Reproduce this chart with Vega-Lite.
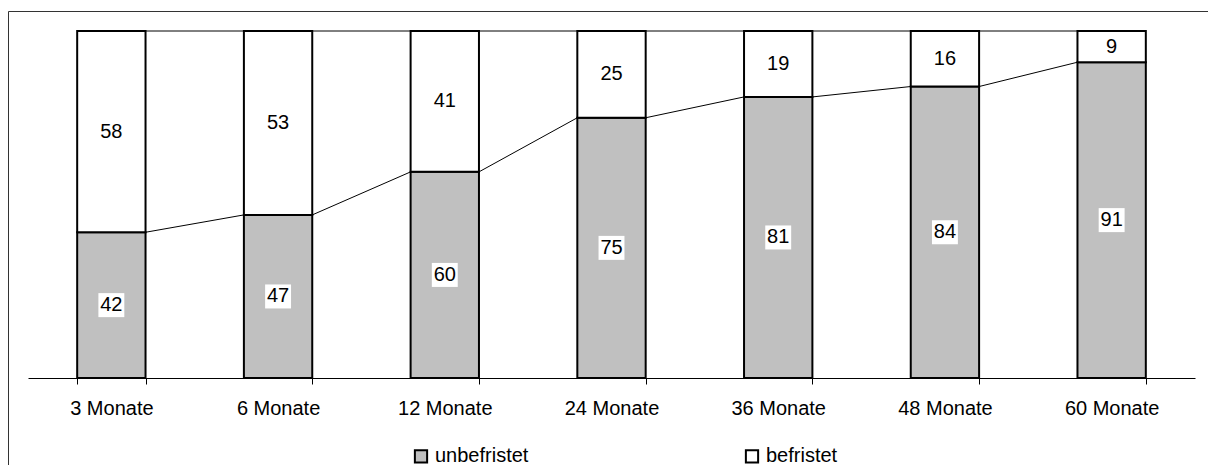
{
  "$schema": "https://vega.github.io/schema/vega-lite/v6.json",
  "width": 1210,
  "height": 470,
  "autosize": {"type": "none"},
  "padding": {"left": 8, "top": 11, "right": 0, "bottom": 0},
  "background": "white",
  "config": {"view": {"stroke": "#333333", "strokeWidth": 1}, "font": "Liberation Sans"},
  "datasets": {
    "bars": [
      {"cat": "3 Monate", "type": "unbefristet", "value": 42},
      {"cat": "3 Monate", "type": "befristet", "value": 58},
      {"cat": "6 Monate", "type": "unbefristet", "value": 47},
      {"cat": "6 Monate", "type": "befristet", "value": 53},
      {"cat": "12 Monate", "type": "unbefristet", "value": 60},
      {"cat": "12 Monate", "type": "befristet", "value": 41},
      {"cat": "24 Monate", "type": "unbefristet", "value": 75},
      {"cat": "24 Monate", "type": "befristet", "value": 25},
      {"cat": "36 Monate", "type": "unbefristet", "value": 81},
      {"cat": "36 Monate", "type": "befristet", "value": 19},
      {"cat": "48 Monate", "type": "unbefristet", "value": 84},
      {"cat": "48 Monate", "type": "befristet", "value": 16},
      {"cat": "60 Monate", "type": "unbefristet", "value": 91},
      {"cat": "60 Monate", "type": "befristet", "value": 9}
    ],
    "links": [
      {"from": "3 Monate", "to": "6 Monate", "a": 42, "b": 47},
      {"from": "6 Monate", "to": "12 Monate", "a": 47, "b": 59.4},
      {"from": "12 Monate", "to": "24 Monate", "a": 59.4, "b": 75},
      {"from": "24 Monate", "to": "36 Monate", "a": 75, "b": 81},
      {"from": "36 Monate", "to": "48 Monate", "a": 81, "b": 84},
      {"from": "48 Monate", "to": "60 Monate", "a": 84, "b": 91},
      {"from": "3 Monate", "to": "6 Monate", "a": 100, "b": 100},
      {"from": "6 Monate", "to": "12 Monate", "a": 100, "b": 100},
      {"from": "12 Monate", "to": "24 Monate", "a": 100, "b": 100},
      {"from": "24 Monate", "to": "36 Monate", "a": 100, "b": 100},
      {"from": "36 Monate", "to": "48 Monate", "a": 100, "b": 100},
      {"from": "48 Monate", "to": "60 Monate", "a": 100, "b": 100}
    ]
  },
  "layer": [
    {
      "data": {"name": "bars"},
      "transform": [
        {"stack": "value", "groupby": ["cat"], "offset": "normalize", "sort": [{"field": "type", "order": "descending"}], "as": ["n0", "n1"]},
        {"calculate": "datum.n0 * 100", "as": "y0"},
        {"calculate": "datum.n1 * 100", "as": "y1"}
      ],
      "mark": {"type": "bar", "stroke": "black", "strokeWidth": 2},
      "encoding": {
        "x": {
          "field": "cat", "type": "nominal",
          "sort": ["3 Monate", "6 Monate", "12 Monate", "24 Monate", "36 Monate", "48 Monate", "60 Monate"],
          "scale": {
            "domain": ["3 Monate", "6 Monate", "12 Monate", "24 Monate", "36 Monate", "48 Monate", "60 Monate"],
            "range": [20, 1187], "paddingInner": 0.59, "paddingOuter": 0.295
          },
          "axis": {
            "title": null, "offset": -103, "tickBand": "extent", "tickSize": 6,
            "domainColor": "black", "tickColor": "black", "domainWidth": 1, "tickWidth": 1,
            "labelFont": "Liberation Sans", "labelFontSize": 20, "labelColor": "black",
            "labelPadding": 14, "labelAngle": 0, "grid": false
          }
        },
        "y": {"field": "y0", "type": "quantitative", "scale": {"domain": [0, 100], "range": [367, 20]}, "axis": null},
        "y2": {"field": "y1"},
        "color": {
          "field": "type", "type": "nominal",
          "scale": {"domain": ["unbefristet", "befristet"], "range": ["#C0C0C0", "#FFFFFF"]},
          "legend": {
            "orient": "none", "legendX": 403, "legendY": 435, "direction": "horizontal",
            "title": null, "symbolType": "square", "symbolSize": 150,
            "symbolStrokeColor": "black", "symbolStrokeWidth": 2, "symbolOpacity": 1,
            "labelFont": "Liberation Sans", "labelFontSize": 20, "labelColor": "black",
            "columnPadding": 212, "labelOffset": 4, "padding": 0
          }
        }
      }
    },
    {
      "data": {"name": "links"},
      "mark": {"type": "rule", "color": "black", "strokeWidth": 1},
      "encoding": {
        "x": {"field": "from", "type": "nominal", "sort": ["3 Monate", "6 Monate", "12 Monate", "24 Monate", "36 Monate", "48 Monate", "60 Monate"], "bandPosition": 1},
        "x2": {"field": "to", "bandPosition": 0},
        "y": {"field": "a", "type": "quantitative"},
        "y2": {"field": "b"}
      }
    },
    {
      "data": {"name": "bars"},
      "transform": [
        {"stack": "value", "groupby": ["cat"], "offset": "normalize", "sort": [{"field": "type", "order": "descending"}], "as": ["n0", "n1"]},
        {"calculate": "(datum.n0 + datum.n1) * 50", "as": "mid"}
      ],
      "mark": {"type": "point", "shape": "M-1.08,-1L1.08,-1L1.08,1L-1.08,1Z", "filled": true, "fill": "white", "opacity": 1, "strokeWidth": 0, "size": 576},
      "encoding": {
        "x": {"field": "cat", "type": "nominal", "sort": ["3 Monate", "6 Monate", "12 Monate", "24 Monate", "36 Monate", "48 Monate", "60 Monate"]},
        "y": {"field": "mid", "type": "quantitative"}
      }
    },
    {
      "data": {"name": "bars"},
      "transform": [
        {"stack": "value", "groupby": ["cat"], "offset": "normalize", "sort": [{"field": "type", "order": "descending"}], "as": ["n0", "n1"]},
        {"calculate": "(datum.n0 + datum.n1) * 50", "as": "mid"}
      ],
      "mark": {"type": "text", "font": "Liberation Sans", "fontSize": 20, "color": "black", "align": "center", "baseline": "middle"},
      "encoding": {
        "x": {"field": "cat", "type": "nominal", "sort": ["3 Monate", "6 Monate", "12 Monate", "24 Monate", "36 Monate", "48 Monate", "60 Monate"]},
        "y": {"field": "mid", "type": "quantitative"},
        "text": {"field": "value", "type": "quantitative"}
      }
    }
  ]
}
